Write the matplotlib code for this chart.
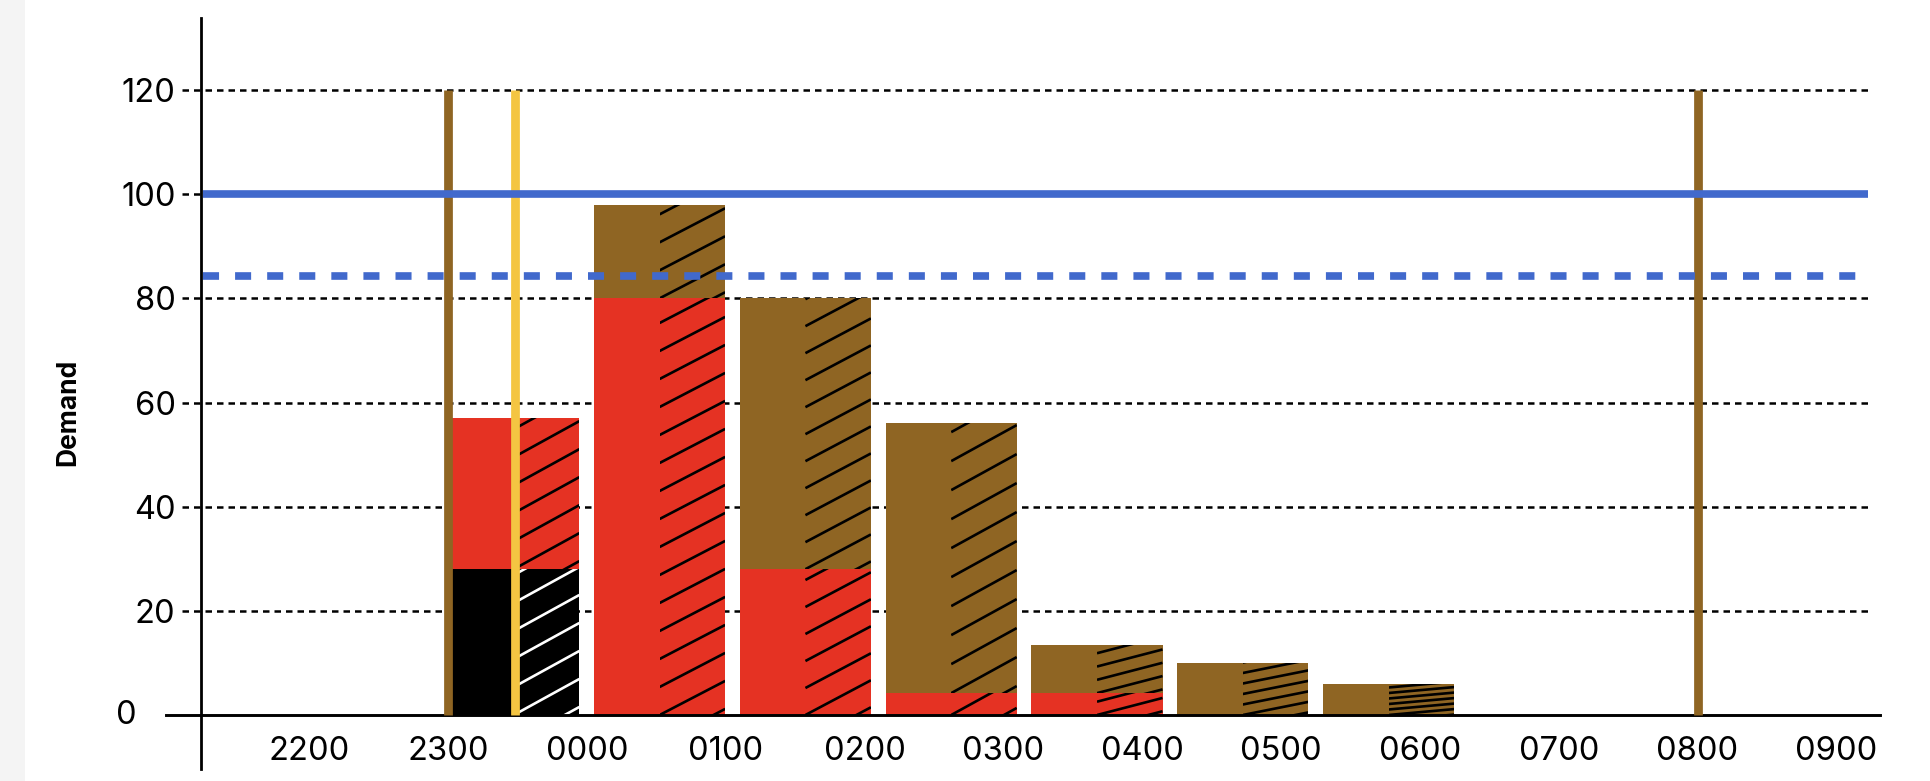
import matplotlib
matplotlib.use("Agg")
import matplotlib.pyplot as plt
from matplotlib.patches import Rectangle

plt.rcParams['font.family'] = ['Inter', 'DejaVu Sans']

# x axis: hours counted from 2200
tick_labels = ['2200', '2300', '0000', '0100', '0200', '0300', '0400',
               '0500', '0600', '0700', '0800', '0900']
tick_hours = list(range(len(tick_labels)))

# stacked demand per hour slot (bottom to top: black, red, brown)
black_vals = [28, 0, 0, 0, 0, 0, 0]
red_vals = [29, 80, 28, 4.2, 4.2, 0, 0]
brown_vals = [0, 18, 52, 51.8, 9.2, 10, 6]

capacity = 100
threshold = 84.3
brown_markers = [1.0, 10.0]   # 2300 and 0800
yellow_marker = 1.477         # about 2329
marker_top = 120
y_ticks = [0, 20, 40, 60, 80, 100, 120]

# colours
BLACK = '#000000'
RED = '#E53223'
BROWN = '#8F6523'
YELLOW = '#F4C542'
BLUE = '#4169CC'

# band layout for the bars (in hours)
BAR_START = 1.0
BAR_STEP = 1.0504
BAR_WIDTH = 0.944

# hatch look per bar: slope (px/px) and line gap (px)
hatch_slope = [0.55, 0.52, 0.53, 0.55, 0.26, 0.2, 0.09]
hatch_gap = [28, 28, 27, 29, 13.3, 10.5, 5.5]

fig = plt.figure(figsize=(19.3, 7.81), dpi=100)
fig.patches.append(Rectangle((0, 0), 25 / 1930, 1, transform=fig.transFigure,
                             facecolor='#f4f4f4', edgecolor='none', zorder=0))

ax = fig.add_axes([140 / 1930, 6 / 781, 1760 / 1930, 765 / 781])
ax.set_xlim(-1.2212, 11.4589)
ax.set_ylim(-11.52, 135.36)
ax.patch.set_alpha(0)

# axes lines
for side in ['top', 'right']:
    ax.spines[side].set_visible(False)
ax.spines['left'].set_position(('data', -0.7846))
ax.spines['left'].set_bounds(-10.37, 133.82)
ax.spines['left'].set_linewidth(2)
ax.spines['bottom'].set_position(('data', 0))
ax.spines['bottom'].set_bounds(-1.0339, 11.315)
ax.spines['bottom'].set_linewidth(2.1)

ax.set_xticks(tick_hours, tick_labels)
# the 0 label sits further left, clear of the axis line
ax.set_yticks(y_ticks, [''] + [str(v) for v in y_ticks[1:]])
ax.tick_params(axis='x', length=0, pad=15, labelsize=23.5)
ax.tick_params(axis='y', length=0, pad=18, labelsize=23.5)
ax.text(-1.322, 0, str(y_ticks[0]), ha='center', va='center', fontsize=23.5)

# dotted grid
ax.hlines(y_ticks[1:], -0.9186, 11.25, colors='black', lw=1.8,
          linestyles=(0, (2.6, 2.0)), zorder=1)

fig.canvas.draw()
p0 = ax.transData.transform((0, 0))
p1 = ax.transData.transform((1, 1))
px_x = p1[0] - p0[0]
px_y = p1[1] - p0[1]


def hatch_segment(x0, x1, y0, y1, color, slope, gap):
    clip = Rectangle((x0, y0), x1 - x0, y1 - y0, facecolor='none',
                     edgecolor='none', transform=ax.transData)
    ax.add_patch(clip)
    rise = slope * (x1 - x0) * px_x
    h = (y1 - y0) * px_y
    n = int((h + rise) / gap) + 2
    for k in range(-n, n + 1):
        yb = y0 + k * gap / px_y
        ln, = ax.plot([x0, x1], [yb, yb + rise / px_y], color=color, lw=1.9,
                      solid_capstyle='butt', zorder=2.5)
        ln.set_clip_path(clip)


lefts = [BAR_START + i * BAR_STEP for i in range(len(red_vals))]
centers = [l + BAR_WIDTH / 2 for l in lefts]

bottom = [0] * len(red_vals)
for vals, col, hcol in [(black_vals, BLACK, 'white'), (red_vals, RED, BLACK),
                        (brown_vals, BROWN, BLACK)]:
    ax.bar(lefts, vals, width=BAR_WIDTH, bottom=bottom, align='edge',
           color=col, edgecolor='none', zorder=2)
    for i, v in enumerate(vals):
        if v > 0:
            hatch_segment(centers[i], lefts[i] + BAR_WIDTH, bottom[i], bottom[i] + v,
                          hcol, hatch_slope[i], hatch_gap[i])
    bottom = [b + v for b, v in zip(bottom, vals)]

# markers
ax.vlines(brown_markers, 0, marker_top, colors=BROWN, lw=6.3, zorder=3)
ax.vlines([yellow_marker], 0, marker_top, colors=YELLOW, lw=6.3, zorder=3)

# capacity lines
ax.plot([-0.767, 11.228], [capacity, capacity], color=BLUE, lw=5.5,
        solid_capstyle='butt', zorder=4)
ax.plot([-0.767, 11.16], [threshold, threshold], color=BLUE, lw=5.5,
        linestyle=(0, (2.1, 2.1)), dash_capstyle='butt', zorder=4)

fig.text(68 / 1930, 1 - 412 / 781, 'Demand', rotation=90, ha='center',
         va='center', fontsize=19, fontweight='bold')

fig.savefig('out.png', dpi=100)
